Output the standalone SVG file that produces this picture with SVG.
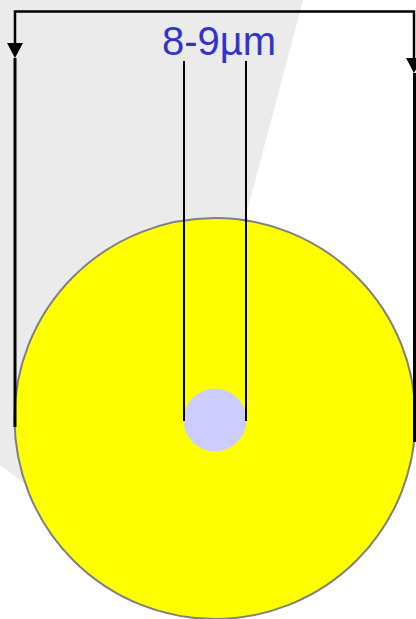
<svg xmlns="http://www.w3.org/2000/svg" width="416" height="619" viewBox="0 0 416 619">
<style>
.thin{stroke:#000;stroke-width:2;fill:none}
.top{stroke:#000;stroke-width:2.5;fill:none}
.thick{stroke:#000;stroke-width:3;fill:none}
.head{fill:#000}
.lbl{font-family:"Liberation Sans",Arial,sans-serif;font-size:40px;fill:#3333cc}
</style>
<polygon id="shade" points="0,0 303,0 150,578 0,465" fill="#ebebeb"/>
<g id="cladding"><circle cx="215" cy="418.5" r="200.5" fill="#ffff00" stroke="#808080" stroke-width="2"/></g>
<g id="core"><circle cx="215" cy="420" r="31.5" fill="#ccccff"/></g>
<g id="connectors">
<path class="top" d="M15,44 V11.5 H414 V58"/>
<path class="head" d="M7,43 L23,43 L15,58 Z"/>
<path class="head" d="M406,58 L422,58 L414,73 Z"/>
<line class="thick" x1="15" y1="58" x2="15" y2="427"/>
<line class="thick" x1="414.5" y1="73" x2="414.5" y2="442"/>
<line class="thin" x1="184" y1="61" x2="184" y2="421"/>
<line class="thin" x1="246" y1="61" x2="246" y2="421"/>
</g>
<g id="label"><text class="lbl" x="219" y="55" text-anchor="middle">8-9µm</text></g>
</svg>
